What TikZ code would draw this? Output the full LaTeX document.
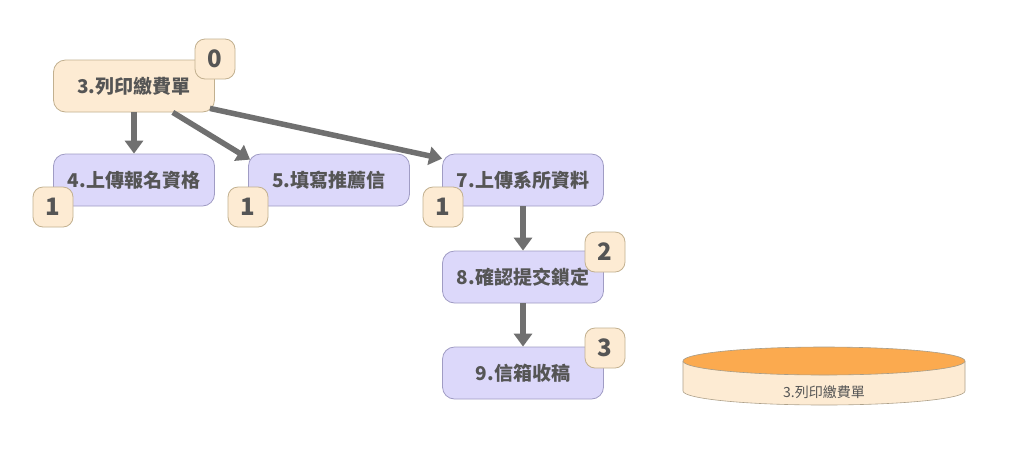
\documentclass[tikz,border=0pt]{standalone}
\usepackage{fontspec}
\setmainfont{Noto Sans CJK TC}
\usetikzlibrary{arrows.meta,calc}
\definecolor{peach}{HTML}{FDEBD3}
\definecolor{peachbd}{HTML}{C2B08F}
\definecolor{lav}{HTML}{DCD8FA}
\definecolor{lavbd}{HTML}{A09CC4}
\definecolor{txt}{HTML}{555555}
\definecolor{arr}{HTML}{707070}
\definecolor{cyltop}{HTML}{FBAA4F}
\tikzset{
  stepbox/.style={draw=lavbd, fill=lav, line width=0.8pt, rounded corners=12pt,
    minimum width=161pt, minimum height=52pt, inner sep=0pt,
    font=\fontsize{19}{22}\selectfont\bfseries, text=txt},
  startbox/.style={stepbox, draw=peachbd, fill=peach},
  badge/.style={draw=peachbd, fill=peach, line width=0.8pt, rounded corners=10pt,
    minimum width=40pt, minimum height=40pt, inner sep=0pt,
    font=\fontsize{24}{26}\selectfont\bfseries, text=txt},
  flow/.style={draw=arr, line width=5.5pt, -{Triangle[length=13pt,width=18pt]}},
}
\begin{document}
\begin{tikzpicture}[x=1pt,y=-1pt]
\useasboundingbox[fill=white] (0,0) rectangle (1024,459);
% boxes
\node[startbox] (b3) at (134,86) {3.列印繳費單};
\node[stepbox] (b4) at (134,180) {4.上傳報名資格};
\node[stepbox] (b5) at (329,180) {5.填寫推薦信};
\node[stepbox] (b7) at (523,180) {7.上傳系所資料};
\node[stepbox] (b8) at (523,277) {8.確認提交鎖定};
\node[stepbox] (b9) at (523,373) {9.信箱收稿};
% arrows
\draw[flow] (b3.south) -- (b4.north);
\draw[flow] ($(b3.south)!0.48!(b3.south east)$) -- ($(b5.north west)+(2,6)$);
\draw[flow] ($(b3.south east)+(-5,-4)$) -- ($(b7.north west)+(0,5)$);
\draw[flow] (b7.south) -- (b8.north);
\draw[flow] (b8.south) -- (b9.north);
% badges
\node[badge] (k3) at (215,59) {0};
\node[badge] (k4) at (53,207) {1};
\node[badge] (k5) at (248,207) {1};
\node[badge] (k7) at (443,207) {1};
\node[badge] (k8) at (605,252) {2};
\node[badge] (k9) at (605,348) {3};
% cylinder
\fill[peach] (683,361) -- (683,391) arc[start angle=180,end angle=0,x radius=141,y radius=14] -- (965,361) -- cycle;
\draw[peachbd!70!gray, line width=0.6pt] (683,361) -- (683,391) arc[start angle=180,end angle=0,x radius=141,y radius=14] -- (965,361);
\draw[fill=cyltop, draw=peachbd!60!gray, line width=0.6pt] (824,361) ellipse[x radius=141, y radius=14];
\node[font=\fontsize{14}{16}\selectfont, text=txt] (cyl) at (824,392) {3.列印繳費單};
\end{tikzpicture}
\end{document}
